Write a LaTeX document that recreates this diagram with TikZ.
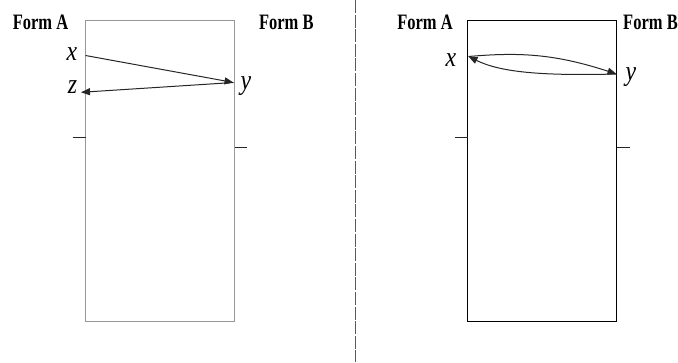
\documentclass[tikz,border=0pt]{standalone}
\usepackage{fontspec}
\setmainfont{Liberation Serif}
\newfontfamily\timesf{Liberation Serif}
\usetikzlibrary{arrows.meta}
\begin{document}
\begin{tikzpicture}[x=1pt,y=-1pt,
  formlabel/.style={anchor=base,inner sep=0pt,font=\timesf\fontsize{22}{22}\selectfont\bfseries},
  varlabel/.style={anchor=base,inner sep=0pt,font=\timesf\fontsize{28}{28}\selectfont\itshape},
  conn/.style={draw=black!85,line width=1pt,-{Triangle[length=9pt,width=7pt]}},
  tickmark/.style={draw=black!85,line width=1.1pt},
  lbox/.style={draw=black!40,line width=1.1pt},
  rbox/.style={draw=black,line width=1.1pt}]
\useasboundingbox (0,0) rectangle (678,362);
% divider
\draw[draw=black!65,line width=1.3pt,dash pattern=on 13pt off 1.6pt] (355.5,0) coordinate (dtop) -- (355.5,362) coordinate (dbot);
% ---------- left panel ----------
\draw[lbox] (85.5,20.5) rectangle (234.5,321.5);
\node[formlabel] (fAl) at (40.5,29.5) {\scalebox{0.75}[1]{Form A}};
\node[formlabel] (fBl) at (286.3,29.5) {\scalebox{0.75}[1]{Form B}};
\node[varlabel] (xl) at (72,60) {\scalebox{0.85}[1]{x}};
\node[varlabel] (zl) at (72.5,93.5) {\scalebox{0.85}[1]{z}};
\node[varlabel] (yl) at (246,89) {\scalebox{0.85}[1]{y}};
\coordinate (xL) at (85.5,55.5);
\coordinate (yL) at (233.5,82.5);
\coordinate (zL) at (81,92.3);
\draw[conn] (xL) -- (yL);
\draw[conn] (yL) -- (zL);
\coordinate (tl1) at (72.7,137.5); \coordinate (tl2) at (85.5,137.5);
\coordinate (tr1) at (234.5,147.5); \coordinate (tr2) at (246.7,147.5);
\draw[tickmark] (tl1) -- (tl2);
\draw[tickmark] (tr1) -- (tr2);
% ---------- right panel ----------
\draw[rbox] (467.5,20.5) rectangle (616.5,321.5);
\node[formlabel] (fAr) at (425,29.5) {\scalebox{0.75}[1]{Form A}};
\node[formlabel] (fBr) at (650.5,29.5) {\scalebox{0.75}[1]{Form B}};
\node[varlabel] (xr) at (451,66) {\scalebox{0.85}[1]{x}};
\node[varlabel] (yr) at (631,80) {\scalebox{0.85}[1]{y}};
\coordinate (xR) at (468.5,56.5);
\coordinate (yR) at (616.5,74);
\draw[conn] (xR) .. controls (520,52) and (555,54) .. (yR);
\draw[conn] (yR) .. controls (540,76) and (500,72) .. (xR);
\coordinate (rl1) at (455,137.5); \coordinate (rl2) at (467.5,137.5);
\coordinate (rr1) at (616.5,147.5); \coordinate (rr2) at (630,147.5);
\draw[tickmark] (rl1) -- (rl2);
\draw[tickmark] (rr1) -- (rr2);
\end{tikzpicture}
\end{document}
